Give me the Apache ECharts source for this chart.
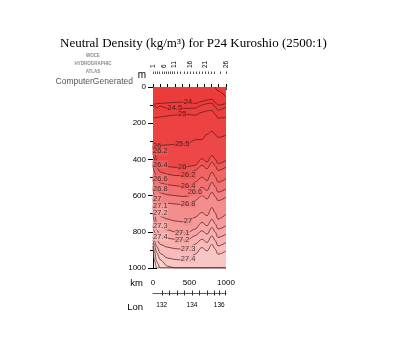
<!DOCTYPE html>
<html><head><meta charset="utf-8">
<script src="https://cdn.jsdelivr.net/npm/echarts@6/dist/echarts.min.js"></script>
<style>html,body{margin:0;padding:0;background:#fff}#c{width:400px;height:350px}</style>
</head><body><div id="c"></div>
<script>
// Section stations (km along section) where isopycnal depths are read
const stationsKm = [0, 20, 50, 100, 200, 300, 400, 480, 575, 670, 740, 808, 850, 890, 1000];
// Depth (m) of each neutral density surface at the stations (null = not present)
const d235 = [null, null, null, null, null, null, null, null, null, null, null, null, 0, 22, 55];
const d240 = [95, 95, 92, 90, 88, 85, 83, 85, 91, 80, 72, 67, 85, 100, 91];
const d245 = [111, 104, 115, 106, 118, 117, 118, 118, 117, 100, 92, 89, 110, 128, 111];
const d250 = [172, 170, 168, 166, 160, 155, 150, 152, 156, 140, 132, 128, 150, 172, 167];
const d255 = [300, 312, 322, 322, 320, 317, 314, 312, 292, 290, 262, 245, 262, 278, 267];
const d260 = [325, 360, 405, 430, 440, 444, 444, 440, 433, 396, 415, 378, 398, 424, 406];
const d262 = [356, 400, 445, 470, 482, 489, 490, 485, 461, 433, 452, 415, 435, 461, 443];
const d264 = [428, 470, 505, 530, 540, 545, 550, 548, 526, 498, 517, 470, 495, 526, 507];
const d266 = [506, 545, 570, 585, 595, 600, 605, 603, 581, 554, 572, 526, 550, 581, 563];
const d268 = [561, 600, 625, 635, 642, 646, 650, 648, 628, 600, 619, 581, 605, 628, 609];
const d270 = [617, 650, 690, 715, 730, 740, 745, 742, 720, 693, 711, 665, 695, 730, 702];
const d271 = [656, 700, 750, 775, 790, 800, 805, 803, 785, 748, 767, 730, 755, 785, 767];
const d272 = [694, 745, 790, 820, 835, 842, 845, 843, 822, 794, 813, 776, 800, 831, 813];
const d273 = [767, 800, 840, 870, 885, 893, 896, 893, 869, 841, 859, 822, 847, 878, 859];
const d274 = [828, 850, 880, 920, 945, 953, 956, 950, 924, 887, 906, 869, 895, 924, 906];
const d275 = [845, 875, 915, 955, 990, 1000, 1000, 1000, 1000, 1000, 1000, 1000, 1000, 1000, 1000];
const d276 = [862, 910, 965, 1000, 1000, 1000, 1000, 1000, 1000, 1000, 1000, 1000, 1000, 1000, 1000];
const d277 = [880, 960, 1000, 1000, 1000, 1000, 1000, 1000, 1000, 1000, 1000, 1000, 1000, 1000, 1000];
const levelNames = ['23.5','24','24.5','25','25.5','26','26.2','26.4','26.6','26.8','27','27.1','27.2','27.3','27.4','27.5','27.6','27.7'];
const depthRows = [d235, d240, d245, d250, d255, d260, d262, d264, d266, d268, d270, d271, d272, d273, d274, d275, d276, d277];
// where labels sit: station km of the interior label, and whether an edge label is drawn
const midLabelKm = [null, 480, 300, 400, 400, 400, 480, 480, 575, 480, 480, 400, 400, 480, 480, null, null, null];
const edgeLabel = [false, false, false, false, false, true, true, true, true, true, true, true, true, true, true, false, false, false];
// CTD station positions (km) and numbers
const stationNum = [1,2,3,4,5,6,7,8,9,10,11,12,13,14,15,16,17,18,19,20,21,22,23,24,25,26];
const stationPosKm = [0, 30, 60, 90, 120, 150, 178, 205, 233, 260, 288, 329, 370, 425, 466, 507, 548, 589, 630, 671, 712, 753, 795, 836, 918, 1000];
const stationLabelled = [1, 6, 11, 16, 21, 26];
// Longitude ticks along the section
const lonTickKm = [120, 225, 330, 430, 534, 640, 745, 840, 908, 990];
const lonLabelKm = [120, 534, 908];
const lonLabelText = ['132', '134', '136'];
const depthTicks = [0, 200, 400, 600, 800, 1000];
const kmLabels = [0, 500, 1000];

// band fill colours (band just shallower than each level), and deepest band
const bandColors = ['#eb3a3a','#eb3b3b','#ec3d3d','#ec3f3f','#ed4242','#ee4747','#f05656','#f16464','#f27272','#f38080','#f48e8e','#f59b9b','#f6a6a6','#f7b1b1','#f8bbbb','#f9c6c6','#fad3d3','#fbdfdf'];
const deepColor = '#fcebeb';
const lineColor = '#5a1c1c';

function rowData(row) {
  const out = [];
  row.forEach((d, j) => { if (d !== null) out.push([stationsKm[j], d]); });
  return out;
}

const series = [];
for (let i = levelNames.length - 1; i >= 0; i--) {
  series.push({
    type: 'line', xAxisIndex: 0, yAxisIndex: 0, data: rowData(depthRows[i]),
    smooth: 0.35, smoothMonotone: 'x', symbol: 'none', silent: true, z: 1,
    lineStyle: { width: 0 }, areaStyle: { color: bandColors[i], opacity: 1, origin: 'start' }
  });
}
for (let i = 0; i < levelNames.length; i++) {
  series.push({
    type: 'line', xAxisIndex: 0, yAxisIndex: 0, data: rowData(depthRows[i]),
    smooth: 0.35, smoothMonotone: 'x', symbol: 'none', silent: true, z: 3,
    lineStyle: { width: 0.75, color: lineColor }
  });
}
const labelData = [];
for (let i = 0; i < levelNames.length; i++) {
  const row = depthRows[i];
  if (midLabelKm[i] !== null) {
    const j = stationsKm.indexOf(midLabelKm[i]);
    labelData.push({ value: [stationsKm[j], row[j]], name: levelNames[i],
      label: { position: 'inside', backgroundColor: bandColors[i] } });
  }
  if (edgeLabel[i]) {
    labelData.push({ value: [stationsKm[0], row[0]], name: levelNames[i],
      label: { position: 'right', distance: -1, backgroundColor: bandColors[i] } });
  }
}
series.push({
  type: 'scatter', xAxisIndex: 0, yAxisIndex: 0, data: labelData, symbolSize: 1, silent: true, z: 5,
  itemStyle: { color: 'rgba(0,0,0,0)' },
  label: { show: true, formatter: p => p.name, color: '#1a1a1a', fontSize: 7.5,
    fontFamily: 'Liberation Sans', padding: [0, 0.5] }
});

const plain = v => String(v);
const axisTxt = { color: '#000', fontFamily: 'Liberation Sans', fontSize: 8, formatter: plain };
const blackLine = { show: true, lineStyle: { color: '#000', width: 1 } };

const option = {
  animation: false,
  backgroundColor: '#fff',
  title: {
    text: 'Neutral Density (kg/m\u00B3) for P24 Kuroshio (2500:1)',
    left: 55, top: 32,
    textStyle: { fontFamily: 'Liberation Serif', fontSize: 13, fontWeight: 'normal', color: '#000' }
  },
  grid: [
    { left: 153, top: 87, width: 73, height: 181, show: true, backgroundColor: deepColor, borderWidth: 0 },
    { left: 153, top: 292, width: 73, height: 1 }
  ],
  xAxis: [
    { gridIndex: 0, type: 'value', position: 'bottom', min: 0, max: 1000, interval: 100,
      axisLine: blackLine, axisTick: { inside: true, length: 3, lineStyle: { color: '#000' } },
      axisLabel: Object.assign({ customValues: kmLabels, margin: 11 }, axisTxt), splitLine: { show: false } },
    { gridIndex: 0, type: 'value', position: 'top', min: 0, max: 1000, interval: 100,
      axisLine: blackLine, axisTick: { inside: true, length: 3, lineStyle: { color: '#000' } },
      axisLabel: { show: false }, splitLine: { show: false } },
    { gridIndex: 0, type: 'value', position: 'top', offset: 13, min: 0, max: 1000,
      axisLine: { show: true, lineStyle: { color: '#555', width: 0.8 } },
      axisTick: { customValues: stationPosKm, inside: true, length: 2.5, lineStyle: { color: '#555' } },
      axisLabel: { customValues: stationLabelled.map(n => stationPosKm[n - 1]), rotate: 90, margin: 6,
        formatter: v => String(stationNum[stationPosKm.indexOf(v)]), color: '#000', fontSize: 6.5, fontFamily: 'Liberation Sans' },
      splitLine: { show: false } },
    { gridIndex: 0, type: 'value', position: 'top', offset: 13, min: 0, max: 1000,
      axisLine: { show: false },
      axisTick: { customValues: stationPosKm, inside: false, length: 2.5, lineStyle: { color: '#555' } },
      axisLabel: { show: false }, splitLine: { show: false } },
    { gridIndex: 1, type: 'value', position: 'bottom', min: 0, max: 1000,
      axisLine: { show: true, lineStyle: { color: '#333', width: 0.8 } },
      axisTick: { customValues: lonTickKm, inside: false, length: 2.5, lineStyle: { color: '#333' } },
      axisLabel: { customValues: lonLabelKm, margin: 9, formatter: v => lonLabelText[lonLabelKm.indexOf(v)],
        color: '#000', fontSize: 6.5, fontFamily: 'Liberation Sans' },
      splitLine: { show: false } },
    { gridIndex: 1, type: 'value', position: 'bottom', min: 0, max: 1000,
      axisLine: { show: false },
      axisTick: { customValues: lonTickKm, inside: true, length: 2.5, lineStyle: { color: '#333' } },
      axisLabel: { show: false }, splitLine: { show: false } }
  ],
  yAxis: [
    { gridIndex: 0, type: 'value', inverse: true, min: 0, max: 1000, interval: 200, position: 'left',
      axisLine: blackLine, axisTick: { inside: false, length: 5, lineStyle: { color: '#000' } },
      axisLabel: Object.assign({ customValues: depthTicks, margin: 7 }, axisTxt), splitLine: { show: false } },
    { gridIndex: 0, type: 'value', inverse: true, min: 0, max: 1000, interval: 100, position: 'left',
      axisLine: { show: false }, axisTick: { inside: true, length: 4, lineStyle: { color: '#000' } },
      axisLabel: { show: false }, splitLine: { show: false } },
    { gridIndex: 0, type: 'value', inverse: true, min: 0, max: 1000, interval: 100, position: 'right',
      axisLine: blackLine, axisTick: { inside: true, length: 3, lineStyle: { color: '#000' } },
      axisLabel: { show: false }, splitLine: { show: false } },
    { gridIndex: 1, type: 'value', show: false, min: 0, max: 1 }
  ],
  graphic: [
    { type: 'text', x: 142, y: 75, style: { text: 'm', fill: '#000', font: '10px "Liberation Sans"', align: 'center', verticalAlign: 'middle' } },
    { type: 'text', x: 143, y: 283, style: { text: 'km', fill: '#000', font: '9.5px "Liberation Sans"', align: 'right', verticalAlign: 'middle' } },
    { type: 'text', x: 143, y: 307, style: { text: 'Lon', fill: '#000', font: '9.5px "Liberation Sans"', align: 'right', verticalAlign: 'middle' } },
    { type: 'text', x: 93, y: 56, style: { text: 'WOCE', fill: '#8a8a8a', font: 'bold 4.5px "Liberation Sans"', align: 'center', verticalAlign: 'middle' } },
    { type: 'text', x: 93, y: 63.5, style: { text: 'HYDROGRAPHIC', fill: '#8a8a8a', font: 'bold 4.5px "Liberation Sans"', align: 'center', verticalAlign: 'middle' } },
    { type: 'text', x: 93, y: 72, style: { text: 'ATLAS', fill: '#8a8a8a', font: 'bold 4.5px "Liberation Sans"', align: 'center', verticalAlign: 'middle' } },
    { type: 'text', x: 133, y: 82, style: { text: 'ComputerGenerated', fill: '#555', font: '8.5px "Liberation Sans"', align: 'right', verticalAlign: 'middle' } }
  ],
  series: series
};
const chart = echarts.init(document.getElementById('c'), null, { renderer: 'canvas' });
chart.setOption(option);
</script>
</body></html>
